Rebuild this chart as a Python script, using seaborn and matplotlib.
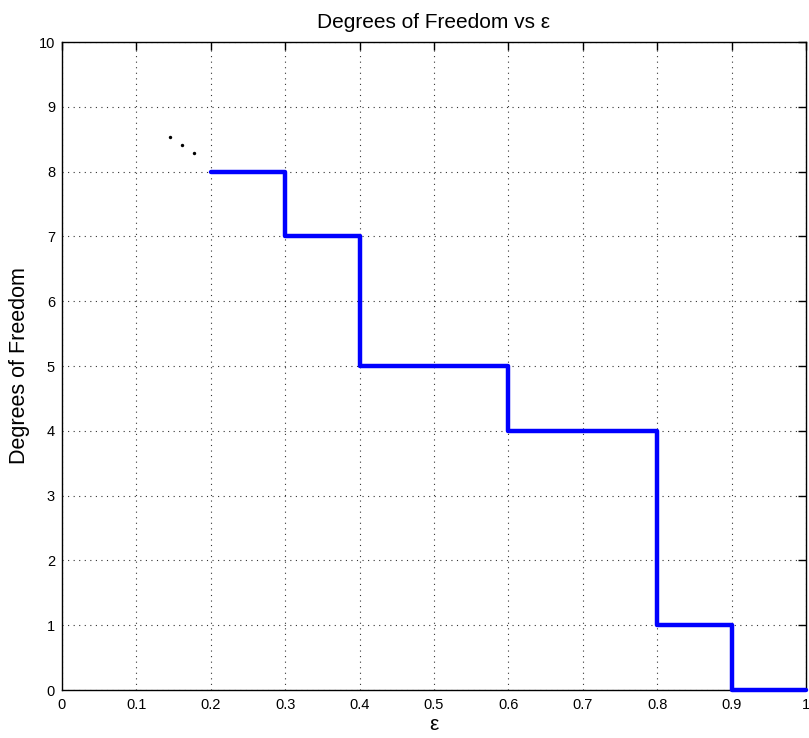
import matplotlib
matplotlib.use("Agg")
import matplotlib.pyplot as plt
import seaborn as sns
import pandas as pd

eps = [0.2, 0.3, 0.4, 0.6, 0.8, 0.9, 1.0]
dof = [8, 7, 5, 4, 1, 0, 0]
dots_x = [0.145, 0.161, 0.177]
dots_y = [8.53, 8.41, 8.29]
xticks = [0, 0.1, 0.2, 0.3, 0.4, 0.5, 0.6, 0.7, 0.8, 0.9, 1]
xticklabels = ["0", "0.1", "0.2", "0.3", "0.4", "0.5", "0.6", "0.7", "0.8", "0.9", "1"]
yticks = list(range(0, 11))

sns.set_style("white")
plt.rcParams['font.family'] = ['Liberation Sans', 'DejaVu Sans']
plt.rcParams['text.color'] = 'black'
plt.rcParams['axes.labelcolor'] = 'black'

fig = plt.figure(figsize=(8.09, 7.38), dpi=100)
ax = fig.add_axes([62/809, 1 - 690/738, (806-62)/809, (690-42)/738])

df = pd.DataFrame({"eps": eps, "dof": dof})
sns.lineplot(data=df, x="eps", y="dof", ax=ax, drawstyle="steps-post",
             color="#0000ff", linewidth=3.2, clip_on=False, zorder=3)
ddf = pd.DataFrame({"x": dots_x, "y": dots_y})
sns.scatterplot(data=ddf, x="x", y="y", ax=ax, color="black", s=6, linewidth=0, zorder=4)

ax.set_xlim(0, 1)
ax.set_ylim(0, 10)
ax.set_xticks(xticks)
ax.set_xticklabels(xticklabels)
ax.set_yticks(yticks)
ax.grid(True, linestyle=(0, (1, 4)), color="black", linewidth=0.8, alpha=0.8)
ax.tick_params(direction="in", length=6, width=1, labelsize=10.5, colors="black", top=True, right=True)
ax.tick_params(axis="x", pad=6)
ax.tick_params(axis="y", pad=5)
for s in ax.spines.values():
    s.set_visible(True)
    s.set_color("black")
    s.set_linewidth(1.0)

ax.set_xlabel("ε", fontsize=15, labelpad=2, color="black")
ax.set_ylabel("Degrees of Freedom", fontsize=15.5, labelpad=6, color="black")
ax.set_title("Degrees of Freedom vs ε", fontsize=15, pad=10, color="black")

fig.savefig("out.png", dpi=100)
